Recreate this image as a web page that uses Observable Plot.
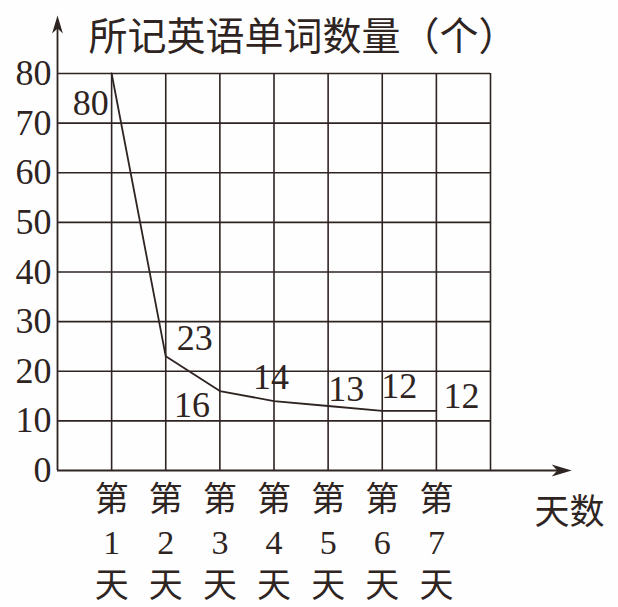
<!DOCTYPE html>
<html>
<head>
<meta charset="utf-8">
<script src="https://cdn.jsdelivr.net/npm/d3@7"></script>
<script src="https://cdn.jsdelivr.net/npm/@observablehq/plot@0.6"></script>
<style>
  html, body { margin: 0; padding: 0; background: #fefefe; }
  #chart svg { display: block; }
</style>
</head>
<body>
<div id="chart"></div>
<script>
// ---- data ----
const dayIndex = [1, 2, 3, 4, 5, 6, 7];
const dayNumbers = ["1", "2", "3", "4", "5", "6", "7"];
const wordCounts = [80, 23, 16, 14, 13, 12, 12];
const yTickValues = [0, 10, 20, 30, 40, 50, 60, 70, 80];
const titleText = "所记英语单词数量（个）";
const xAxisTitle = "天数";
const dayPrefix = "第";
const daySuffix = "天";

// ---- layout / style (not data) ----
const ink = "#2e2422";
const cjk = "'Noto Sans CJK SC', 'Noto Sans', sans-serif";
const serif = "'Liberation Serif', 'DejaVu Serif', serif";
const mixed = "'Liberation Serif', 'Noto Sans CJK SC', serif";
const xGridMax = 8;          // last vertical grid column
const xArrowEnd = 9.5;       // x axis arrow tip (in x units)
const yArrowEnd = 91.7;      // y axis arrow tip (in y units)
const labelOffsets = [[-21, 30], [29, -18], [-28, 14], [-3, -24], [18, -17], [17, -24], [25, -14]];

const points = dayIndex.map((d, i) => ({day: d, value: wordCounts[i], num: dayNumbers[i]}));

const arrowSymbol = {
  draw(context, size) {
    const r = Math.sqrt(size / Math.PI);
    const L = r * 2, w = r * 0.6;
    context.moveTo(0, 0);
    context.lineTo(-w, L);
    context.lineTo(0, L * 0.72);
    context.lineTo(w, L);
    context.closePath();
  }
};

const chart = Plot.plot({
  width: 618,
  height: 607,
  marginLeft: 57,
  marginRight: 128,
  marginTop: 73,
  marginBottom: 137,
  x: {domain: [0, xGridMax], axis: null},
  y: {domain: [0, 80], axis: null},
  style: {background: "#fefefe", overflow: "visible"},
  marks: [
    // horizontal grid
    Plot.ruleY(yTickValues.filter(v => v > 0), {x1: 0, x2: xGridMax, stroke: ink, strokeWidth: 1.6}),
    // vertical grid
    Plot.ruleX(d3.range(1, xGridMax + 1), {y1: 0, y2: 80, stroke: ink, strokeWidth: 1.6}),
    // axes
    Plot.ruleX([0], {y1: 0, y2: yArrowEnd - 2, stroke: ink, strokeWidth: 1.8}),
    Plot.ruleY([0], {x1: 0, x2: xArrowEnd - 0.2, stroke: ink, strokeWidth: 1.8}),
    Plot.dot([0], {x: 0, y: yArrowEnd, symbol: arrowSymbol, r: 9, fill: ink, stroke: "none"}),
    Plot.dot([0], {x: xArrowEnd, y: 0, symbol: arrowSymbol, r: 10, rotate: 90, fill: ink, stroke: "none"}),
    // y tick labels
    Plot.text(yTickValues, {x: 0, y: d => d, text: d => String(d), textAnchor: "end", dx: -6,
      fontFamily: serif, fontSize: 36, fill: ink}),
    // x tick labels (vertical three-line labels: 第 / n / 天)
    Plot.text(points, {x: "day", y: 0, text: d => `${dayPrefix}\n${d.num}\n${daySuffix}`,
      lineAnchor: "middle", lineHeight: 1.27, dy: 70, fontFamily: mixed, fontSize: 34, fill: ink}),
    // data line
    Plot.line(points, {x: "day", y: "value", stroke: ink, strokeWidth: 1.8}),
    // data labels
    ...labelOffsets.map(([dx, dy], i) =>
      Plot.text([points[i]], {x: "day", y: "value", text: d => String(d.value), dx, dy,
        fontFamily: serif, fontSize: 36, fill: ink})),
    // titles
    Plot.text([titleText], {frameAnchor: "top-left", dx: 31, dy: -36, textAnchor: "start", lineAnchor: "middle",
      fontFamily: cjk, fontSize: 39, fill: ink}),
    Plot.text([xAxisTitle], {frameAnchor: "bottom-right", dx: 44, dy: 42, textAnchor: "start", lineAnchor: "middle",
      fontFamily: cjk, fontSize: 35, fill: ink})
  ]
});
document.getElementById("chart").append(chart);
</script>
</body>
</html>
